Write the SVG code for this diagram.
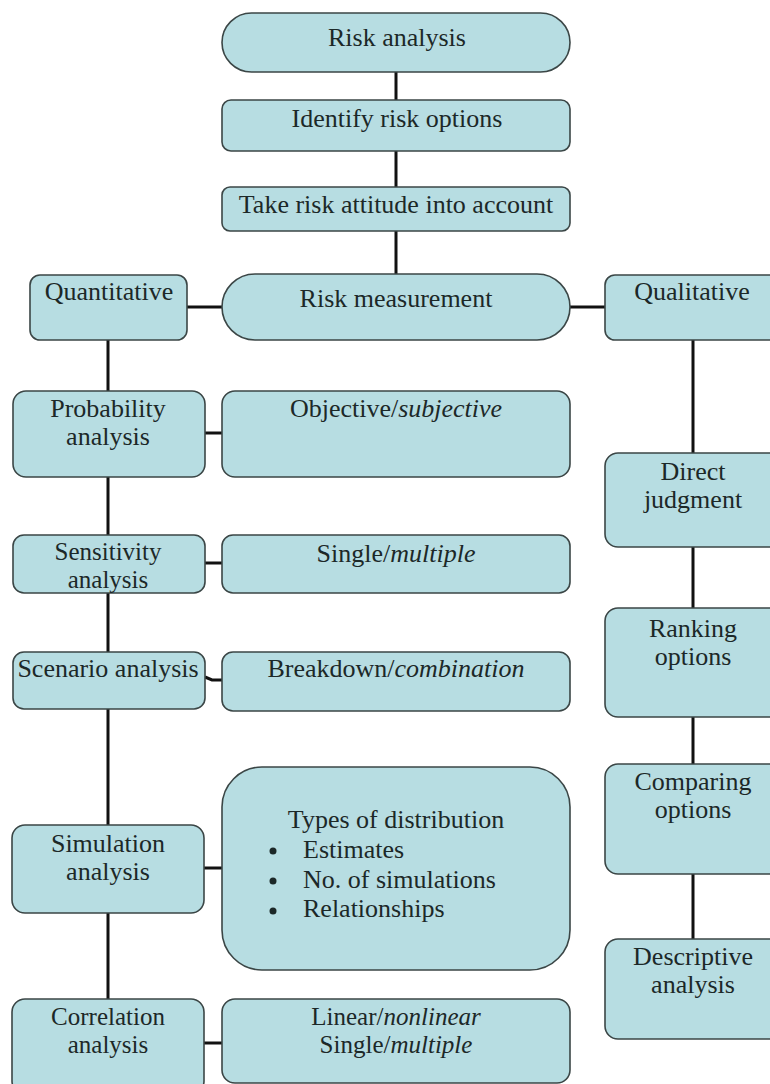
<svg xmlns="http://www.w3.org/2000/svg" width="770" height="1084" viewBox="0 0 770 1084">
<style>
.b{fill:#b7dde2;stroke:#3b4646;stroke-width:1.6}
.t{font-size:26px;fill:#1c2828;text-anchor:middle}
.s{font-size:25px}
.l{font-size:26px;fill:#1c2828}
.c{stroke:#111;stroke-width:3;fill:none}
</style>
<rect width="770" height="1084" fill="#fff"/>
<g id="connectors">
<line class="c" x1="396" y1="72" x2="396" y2="100"/>
<line class="c" x1="396" y1="151" x2="396" y2="187"/>
<line class="c" x1="396" y1="231" x2="396" y2="274"/>
<line class="c" x1="187" y1="307" x2="222" y2="307"/>
<line class="c" x1="570" y1="307" x2="605" y2="307"/>
<line class="c" x1="108" y1="340" x2="108" y2="1000"/>
<line class="c" x1="693" y1="340" x2="693" y2="940"/>
<line class="c" x1="205" y1="433" x2="222" y2="433"/>
<line class="c" x1="205" y1="563" x2="222" y2="563"/>
<polyline class="c" points="205,677 212,680 222,680"/>
<line class="c" x1="204" y1="868" x2="222" y2="868"/>
<line class="c" x1="204" y1="1043" x2="222" y2="1043"/>
</g>
<g font-family="'Liberation Serif', 'Times New Roman', serif">
<g id="risk-analysis"><rect class="b" x="222" y="13" width="348" height="59" rx="29.5"/><text class="t" x="397" y="46">Risk analysis</text></g>
<g id="identify"><rect class="b" x="222" y="100" width="348" height="51" rx="9"/><text class="t" x="397" y="127">Identify risk options</text></g>
<g id="attitude"><rect class="b" x="222" y="187" width="348" height="44" rx="8"/><text class="t" x="396" y="213">Take risk attitude into account</text></g>
<g id="risk-measurement"><rect class="b" x="222" y="274" width="348" height="66" rx="33"/><text class="t" x="396" y="307">Risk measurement</text></g>
<g id="quantitative"><rect class="b" x="30" y="275" width="157" height="65" rx="10"/><text class="t" x="109" y="300">Quantitative</text></g>
<g id="qualitative"><rect class="b" x="605" y="275" width="180" height="65" rx="10"/><text class="t" x="692" y="300">Qualitative</text></g>
<g id="probability"><rect class="b" x="13" y="391" width="192" height="86" rx="13"/><text class="t" x="108" y="417">Probability</text><text class="t" x="108" y="445">analysis</text></g>
<g id="objective"><rect class="b" x="222" y="391" width="348" height="86" rx="13"/><text class="t" x="396" y="417">Objective/<tspan font-style="italic">subjective</tspan></text></g>
<g id="sensitivity"><rect class="b" x="13" y="535" width="192" height="58" rx="11"/><text class="t s" x="108" y="560">Sensitivity</text><text class="t s" x="108" y="588">analysis</text></g>
<g id="single"><rect class="b" x="222" y="535" width="348" height="58" rx="11"/><text class="t" x="396" y="562">Single/<tspan font-style="italic">multiple</tspan></text></g>
<g id="scenario"><rect class="b" x="13" y="652" width="192" height="57" rx="11"/><text class="t" x="108" y="677">Scenario analysis</text></g>
<g id="breakdown"><rect class="b" x="222" y="652" width="348" height="59" rx="11"/><text class="t" x="396" y="677">Breakdown/<tspan font-style="italic">combination</tspan></text></g>
<g id="simulation"><rect class="b" x="12" y="825" width="192" height="88" rx="13"/><text class="t" x="108" y="852">Simulation</text><text class="t" x="108" y="880">analysis</text></g>
<g id="distribution"><rect class="b" x="222" y="767" width="348" height="203" rx="40"/><text class="t" x="396" y="828">Types of distribution</text>
<circle cx="273" cy="851" r="3.5" fill="#1c2828"/><text class="l" x="303" y="858">Estimates</text>
<circle cx="273" cy="881" r="3.5" fill="#1c2828"/><text class="l" x="303" y="888">No. of simulations</text>
<circle cx="273" cy="911" r="3.5" fill="#1c2828"/><text class="l" x="303" y="917">Relationships</text></g>
<g id="correlation"><rect class="b" x="12" y="999" width="192" height="95" rx="13"/><text class="t s" x="108" y="1025">Correlation</text><text class="t s" x="108" y="1053">analysis</text></g>
<g id="linear"><rect class="b" x="222" y="999" width="348" height="84" rx="13"/><text class="t s" x="396" y="1025">Linear/<tspan font-style="italic">nonlinear</tspan></text><text class="t s" x="396" y="1053">Single/<tspan font-style="italic">multiple</tspan></text></g>
<g id="direct"><rect class="b" x="605" y="453" width="180" height="94" rx="13"/><text class="t" x="693" y="480">Direct</text><text class="t" x="693" y="508">judgment</text></g>
<g id="ranking"><rect class="b" x="605" y="608" width="180" height="109" rx="13"/><text class="t" x="693" y="637">Ranking</text><text class="t" x="693" y="665">options</text></g>
<g id="comparing"><rect class="b" x="605" y="764" width="180" height="110" rx="13"/><text class="t" x="693" y="790">Comparing</text><text class="t" x="693" y="818">options</text></g>
<g id="descriptive"><rect class="b" x="605" y="939" width="180" height="100" rx="13"/><text class="t" x="693" y="965">Descriptive</text><text class="t" x="693" y="993">analysis</text></g>
</g>
</svg>
